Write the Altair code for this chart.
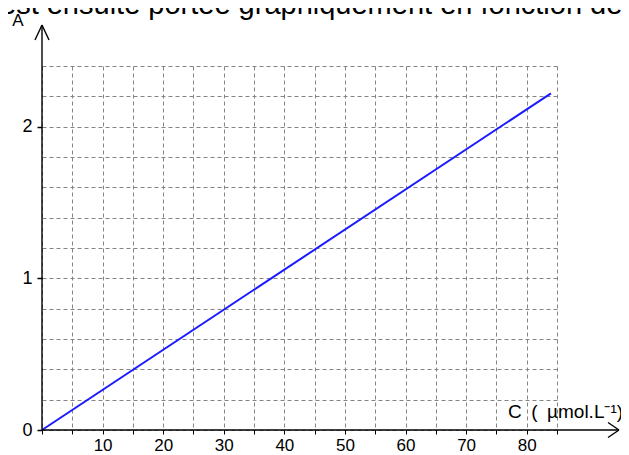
import altair as alt
import pandas as pd

# ---- data ----
concentration = [0, 84]          # C (µmol/L)
absorbance = [0, 2.22]           # A
x_ticks = [0, 5, 10, 15, 20, 25, 30, 35, 40, 45, 50, 55, 60, 65, 70, 75, 80, 85]
y_grid = [0, 0.2, 0.4, 0.6, 0.8, 1, 1.2, 1.4, 1.6, 1.8, 2, 2.2, 2.4]
y_labelled = [0, 1, 2]
x_title = "C\u2002(\u2002µmol.L⁻¹)"
y_title = "A"
top_text = "est ensuite portée graphiquement en fonction de"

# ---- layout ----
W, H = 515, 364
X_MAX, Y_MAX = 85, 2.4
px_x = W / X_MAX
px_y = H / Y_MAX
FONT = "Liberation Sans"
GRID = "#858585"

xs = alt.Scale(domain=[0, X_MAX], nice=False, zero=False)
ys = alt.Scale(domain=[0, Y_MAX], nice=False, zero=False)

df = pd.DataFrame({"C": concentration, "A": absorbance})

lab_test = " || ".join(f"datum.value == {v}" for v in y_labelled)

line = alt.Chart(df).mark_line(color="#1a1aff", strokeWidth=2).encode(
    x=alt.X("C:Q", scale=xs, axis=alt.Axis(
        values=x_ticks, tickCount=len(x_ticks) + 2,
        grid=True, gridDash=[4, 3], gridColor=GRID, gridWidth=1,
        domain=False, tickSize=4, tickColor="black", tickWidth=1,
        labelExpr="datum.value % 10 == 0 && datum.value > 0 && datum.value < 85 ? format(datum.value, 'd') : ''",
        labelFont=FONT, labelFontSize=17, labelColor="black", labelPadding=3,
        labelFlush=False, labelOverlap=False, title=None)),
    y=alt.Y("A:Q", scale=ys, axis=alt.Axis(
        values=y_grid, tickCount=len(y_grid) + 2,
        grid=True, gridDash=[4, 3], gridColor=GRID, gridWidth=1,
        domain=False, tickSize=5, tickColor="black", tickWidth=1.5,
        tickOpacity={"condition": {"test": lab_test, "value": 1}, "value": 0},
        labelExpr=f"{lab_test} ? format(datum.value, 'd') : ''",
        labelFont=FONT, labelFontSize=18, labelColor="black", labelPadding=5,
        labelFlush=False, labelOverlap=False, title=None)),
)

# ---- axis lines with arrow heads (data units derived from pixel offsets) ----
x_tip = (619 - 42) / px_x
y_tip = (430 - 25) / px_y
segs = pd.DataFrame([
    {"x": 0, "y": 0, "x2": x_tip, "y2": 0},
    {"x": x_tip, "y": 0, "x2": x_tip - 11 / px_x, "y2": 7.5 / px_y},
    {"x": x_tip, "y": 0, "x2": x_tip - 11 / px_x, "y2": -7.5 / px_y},
    {"x": 0, "y": 0, "x2": 0, "y2": y_tip},
    {"x": 0, "y": y_tip, "x2": -7 / px_x, "y2": y_tip - 15 / px_y},
    {"x": 0, "y": y_tip, "x2": 7 / px_x, "y2": y_tip - 15 / px_y},
])
axes = alt.Chart(segs).mark_rule(color="black", strokeWidth=1.4).encode(
    x=alt.X("x:Q", scale=xs), y=alt.Y("y:Q", scale=ys),
    x2="x2:Q", y2="y2:Q",
)

texts = pd.DataFrame([
    {"t": y_title, "x": (18 - 42) / px_x, "y": (430 - 21) / px_y, "size": 17, "align": "center"},
    {"t": x_title, "x": (508 - 42) / px_x, "y": (430 - 418) / px_y, "size": 19, "align": "left"},
    {"t": top_text, "x": (0 - 42) / px_x, "y": (430 - 14) / px_y, "size": 29, "align": "left"},
])

def text_layer(row):
    return alt.Chart(pd.DataFrame([row])).mark_text(
        font=FONT, fontSize=row["size"], color="black", align=row["align"],
        baseline="alphabetic" if row["t"] != y_title else "middle",
    ).encode(x=alt.X("x:Q", scale=xs), y=alt.Y("y:Q", scale=ys), text="t:N")

chart = alt.layer(
    line, axes, *[text_layer(r) for r in texts.to_dict("records")]
).properties(
    width=W, height=H,
    autosize=alt.AutoSizeParams(type="none"),
    padding={"left": 34, "top": 58, "right": 64, "bottom": 25},
    background="white",
).configure_view(stroke=None)

chart.save("out.html", embed_options={"renderer": "svg", "actions": False})
